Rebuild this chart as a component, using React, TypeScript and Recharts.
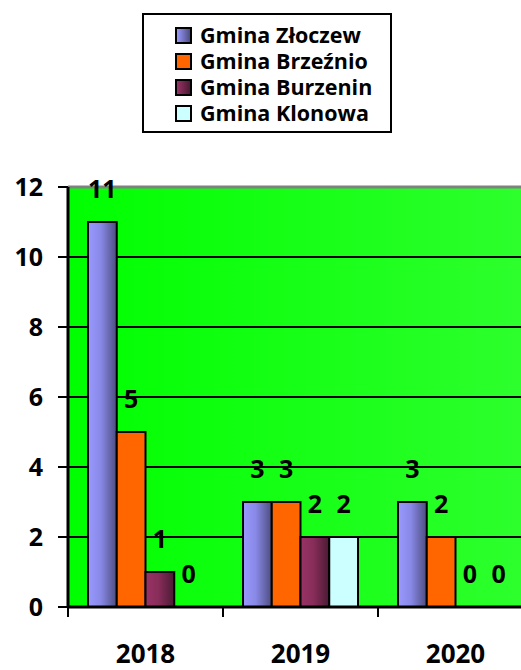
import React from 'react'
import { BarChart, Bar, XAxis, YAxis, CartesianGrid, ReferenceLine, LabelList } from 'recharts'

const FONT = '"Open Sans", "DejaVu Sans", sans-serif'

const CATEGORIES = ['2018', '2019', '2020']
const ZLOCZEW = [11, 3, 3]
const BRZEZNIO = [5, 3, 2]
const BURZENIN = [1, 2, 0]
const KLONOWA = [0, 2, 0]
const Y_TICKS = [0, 2, 4, 6, 8, 10, 12]

const SERIES = [
  { key: 'zloczew', name: 'Gmina Złoczew', values: ZLOCZEW, fill: 'url(#gBlue)', css: 'linear-gradient(to right, #9999ff, #4d4d80)' },
  { key: 'brzeznio', name: 'Gmina Brzeźnio', values: BRZEZNIO, fill: '#ff6600', css: '#ff6600' },
  { key: 'burzenin', name: 'Gmina Burzenin', values: BURZENIN, fill: 'url(#gMaroon)', css: 'linear-gradient(to right, #993366, #4a1a33)' },
  { key: 'klonowa', name: 'Gmina Klonowa', values: KLONOWA, fill: '#ccffff', css: '#ccffff' },
]

const data = CATEGORIES.map((year, i) => {
  const row: Record<string, string | number> = { year }
  SERIES.forEach((s) => (row[s.key] = s.values[i]))
  return row
})

const CHART_W = 540
const CHART_H = 670
const MARGIN = { top: 187, right: 7, bottom: 0, left: 0 }
const Y_W = 68
const BAND = (CHART_W - MARGIN.right - MARGIN.left - Y_W) / CATEGORIES.length

function YearTick({ x, y, payload, index }: any) {
  const half = BAND / 2
  return (
    <g>
      <line x1={x - half} x2={x - half} y1={y - 10} y2={y} stroke="#000" strokeWidth={2} />
      {index === CATEGORIES.length - 1 && (
        <line x1={x + half} x2={x + half} y1={y - 10} y2={y} stroke="#000" strokeWidth={2} />
      )}
      <text x={x} y={y + 46} textAnchor="middle" fontFamily={FONT} fontWeight={700} fontSize={26} fill="#000">
        {payload.value}
      </text>
    </g>
  )
}

// bars with value 0 get a tiny min size so their "0" label is kept; the bar itself is not drawn
function BarShape(props: any) {
  const { x, y, width, height, fill, value } = props
  const v = Array.isArray(value) ? value[1] - value[0] : value
  if (!v) return null
  return <rect x={x} y={y} width={width} height={height} fill={fill} stroke="#000" strokeWidth={2} />
}

function ValueLabel({ x, y, width, value }: any) {
  return (
    <text x={x + width / 2} y={y - 24} textAnchor="middle" fontFamily={FONT} fontWeight={700} fontSize={25} fill="#000">
      {value}
    </text>
  )
}

function Legend() {
  return (
    <div
      style={{
        position: 'absolute',
        left: 142,
        top: 13,
        width: 246,
        height: 116,
        border: '2px solid #000',
        background: '#fff',
        fontFamily: FONT,
        fontWeight: 700,
        fontSize: 21.5,
        zIndex: 2,
      }}
    >
      {SERIES.map((s, i) => (
        <div
          key={s.key}
          style={{ position: 'absolute', left: 31, top: 8 + i * 26, height: 24, display: 'flex', alignItems: 'center', whiteSpace: 'nowrap' }}
        >
          <span
            style={{
              width: 13,
              height: 13,
              border: '2px solid #000',
              background: s.css,
              marginRight: 8,
              flexShrink: 0,
            }}
          />
          <span style={{ lineHeight: '24px' }}>{s.name}</span>
        </div>
      ))}
    </div>
  )
}

export default function App() {
  return (
    <div style={{ position: 'absolute', left: 0, top: 0, width: 521, height: 670, overflow: 'hidden', background: '#fff' }}>
      <Legend />
      <BarChart width={CHART_W} height={CHART_H} data={data} margin={MARGIN} barGap={0} barSize={28.75}>
        <defs>
          <linearGradient id="plotBg" x1="0" y1="0" x2="1" y2="0">
            <stop offset="0%" stopColor="#00ff00" />
            <stop offset="100%" stopColor="#2eff2e" />
          </linearGradient>
          <linearGradient id="gBlue" x1="0" y1="0" x2="1" y2="0">
            <stop offset="0%" stopColor="#9999ff" />
            <stop offset="45%" stopColor="#8888e6" />
            <stop offset="100%" stopColor="#4d4d80" />
          </linearGradient>
          <linearGradient id="gMaroon" x1="0" y1="0" x2="1" y2="0">
            <stop offset="0%" stopColor="#993366" />
            <stop offset="45%" stopColor="#882d5a" />
            <stop offset="100%" stopColor="#4a1a33" />
          </linearGradient>
        </defs>
        <CartesianGrid vertical={false} stroke="#000" strokeWidth={2} fill="url(#plotBg)" fillOpacity={1} />
        <ReferenceLine y={12} stroke="#808080" strokeWidth={3} />
        <XAxis
          dataKey="year"
          height={670 - 607}
          axisLine={{ stroke: '#000', strokeWidth: 3 }}
          tickLine={false}
          tickSize={10}
          tickMargin={0}
          tick={<YearTick />}
          interval={0}
        />
        <YAxis
          width={Y_W}
          domain={[0, 12]}
          ticks={Y_TICKS}
          interval={0}
          axisLine={{ stroke: '#000', strokeWidth: 3 }}
          tickLine={{ stroke: '#000', strokeWidth: 2 }}
          tickSize={10}
          tickMargin={15}
          tick={{ fontFamily: FONT, fontWeight: 700, fontSize: 25, fill: '#000' }}
        />
        {SERIES.map((s) => (
          <Bar
            key={s.key}
            dataKey={s.key}
            name={s.name}
            fill={s.fill}
            minPointSize={0.01}
            shape={<BarShape />}
            isAnimationActive={false}
          >
            <LabelList dataKey={s.key} content={<ValueLabel />} />
          </Bar>
        ))}
      </BarChart>
    </div>
  )
}
